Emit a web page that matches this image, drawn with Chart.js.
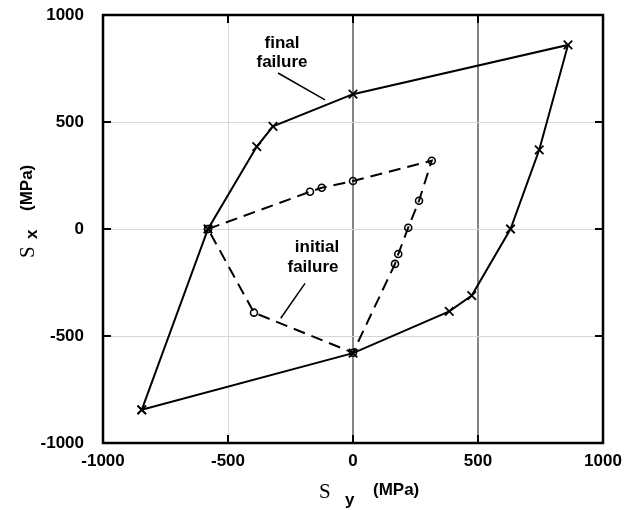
<!DOCTYPE html>
<html>
<head>
<meta charset="utf-8">
<script src="https://cdn.jsdelivr.net/npm/chart.js@4/dist/chart.umd.min.js"></script>
<style>
  html, body { margin: 0; padding: 0; background: #ffffff; }
  canvas { display: block; }
</style>
</head>
<body>
<canvas id="c" width="626" height="510"></canvas>
<script>
// Final failure envelope (Sy, Sx) in MPa
const finalSy = [-845, -580, -385, -320, 0, 860, 745, 630, 475, 385, 0, -845];
const finalSx = [-845, 0, 385, 480, 630, 860, 370, 0, -311, -385, -580, -845];
// Initial failure envelope (Sy, Sx) in MPa
const initialSy = [-580, -172, -125, 0, 315, 264, 221, 181, 168, 0, -396, -580];
const initialSx = [0, 174, 193, 224, 319, 132, 6, -117, -163, -578, -391, 0];
// Axis ticks
const tickValues = [-1000, -500, 0, 500, 1000];
const innerTickValues = [-500, 0, 500];
const darkGridX = [0, 500];
// Annotation leader lines (data coordinates)
const leaderFinal = [[-300, 729], [-112, 603]];
const leaderInitial = [[-192, -254], [-289, -417]];

const toPts = (xs, ys) => xs.map((x, i) => ({ x: x, y: ys[i] }));

const decor = {
  id: 'decor',
  afterDraw(chart) {
    const ctx = chart.ctx;
    const a = chart.chartArea;
    const xs = chart.scales.x, ys = chart.scales.y;
    ctx.save();
    // frame
    ctx.strokeStyle = '#000';
    ctx.lineWidth = 2.5;
    ctx.strokeRect(a.left, a.top, a.right - a.left, a.bottom - a.top);
    // inner ticks
    ctx.lineWidth = 2;
    innerTickValues.forEach(v => {
      const px = xs.getPixelForValue(v);
      ctx.beginPath();
      ctx.moveTo(px, a.top); ctx.lineTo(px, a.top + 8);
      ctx.moveTo(px, a.bottom); ctx.lineTo(px, a.bottom - 8);
      ctx.stroke();
      const py = ys.getPixelForValue(v);
      ctx.beginPath();
      ctx.moveTo(a.left, py); ctx.lineTo(a.left + 8, py);
      ctx.moveTo(a.right, py); ctx.lineTo(a.right - 8, py);
      ctx.stroke();
    });
    // annotations
    ctx.fillStyle = '#000';
    ctx.font = 'bold 17px "Liberation Sans", Arial, sans-serif';
    ctx.textAlign = 'center';
    ctx.textBaseline = 'middle';
    ctx.fillText('final', 282, 43);
    ctx.fillText('failure', 282, 62);
    ctx.fillText('initial', 317, 247);
    ctx.fillText('failure', 313, 267);
    ctx.lineWidth = 1.5;
    [leaderFinal, leaderInitial].forEach(l => {
      ctx.beginPath();
      ctx.moveTo(xs.getPixelForValue(l[0][0]), ys.getPixelForValue(l[0][1]));
      ctx.lineTo(xs.getPixelForValue(l[1][0]), ys.getPixelForValue(l[1][1]));
      ctx.stroke();
    });
    // x axis title
    ctx.textAlign = 'left';
    ctx.textBaseline = 'alphabetic';
    ctx.font = '21px "Liberation Serif", "Times New Roman", serif';
    ctx.fillText('S', 319, 498);
    ctx.font = 'bold 17px "Liberation Sans", Arial, sans-serif';
    ctx.fillText('y', 345, 505);
    ctx.fillText('(MPa)', 373, 495);
    // y axis title (rotated)
    ctx.save();
    ctx.translate(34, 0);
    ctx.rotate(-Math.PI / 2);
    ctx.font = '21px "Liberation Serif", "Times New Roman", serif';
    ctx.fillText('S', -258, 0);
    ctx.font = 'bold 17px "Liberation Sans", Arial, sans-serif';
    ctx.fillText('x', -239, 3);
    ctx.fillText('(MPa)', -211, -2);
    ctx.restore();
    ctx.restore();
  }
};

const tickFont = { family: '"Liberation Sans", Arial, sans-serif', size: 17, weight: 'bold' };
const zeroPad = s => { s.paddingTop = 0; s.paddingBottom = 0; s.paddingLeft = 0; s.paddingRight = 0; };

new Chart(document.getElementById('c'), {
  type: 'scatter',
  data: {
    datasets: [
      {
        label: 'final failure',
        data: toPts(finalSy, finalSx),
        showLine: true,
        borderColor: '#000',
        borderWidth: 2,
        pointStyle: 'crossRot',
        pointRadius: 6,
        pointBorderWidth: 1.8,
        pointBorderColor: '#000',
        tension: 0
      },
      {
        label: 'initial failure',
        data: toPts(initialSy, initialSx),
        showLine: true,
        borderColor: '#000',
        borderWidth: 2,
        borderDash: [12, 7],
        pointStyle: 'circle',
        pointRadius: 3.5,
        pointBorderWidth: 1.6,
        pointBorderColor: '#000',
        pointBackgroundColor: 'rgba(255,255,255,0)',
        tension: 0
      }
    ]
  },
  options: {
    responsive: false,
    animation: false,
    layout: { padding: { top: 15, right: 23, left: 0, bottom: 0 } },
    plugins: { legend: { display: false }, tooltip: { enabled: false } },
    scales: {
      x: {
        type: 'linear',
        min: -1000, max: 1000,
        afterBuildTicks: s => { s.ticks = tickValues.map(v => ({ value: v })); },
        afterFit: s => { s.height = 67; zeroPad(s); },
        border: { display: false },
        grid: {
          drawTicks: false,
          color: c => darkGridX.includes(c.tick && c.tick.value) ? '#858585' : '#d6d6d6',
          lineWidth: c => darkGridX.includes(c.tick && c.tick.value) ? 2 : 1
        },
        ticks: { padding: 8, color: '#000', font: tickFont, callback: v => String(v) }
      },
      y: {
        type: 'linear',
        min: -1000, max: 1000,
        afterBuildTicks: s => { s.ticks = tickValues.map(v => ({ value: v })); },
        afterFit: s => { s.width = 103; zeroPad(s); },
        border: { display: false },
        grid: { drawTicks: false, color: '#d6d6d6', lineWidth: 1 },
        ticks: { padding: 19, color: '#000', font: tickFont, callback: v => String(v) }
      }
    }
  },
  plugins: [decor]
});
</script>
</body>
</html>
